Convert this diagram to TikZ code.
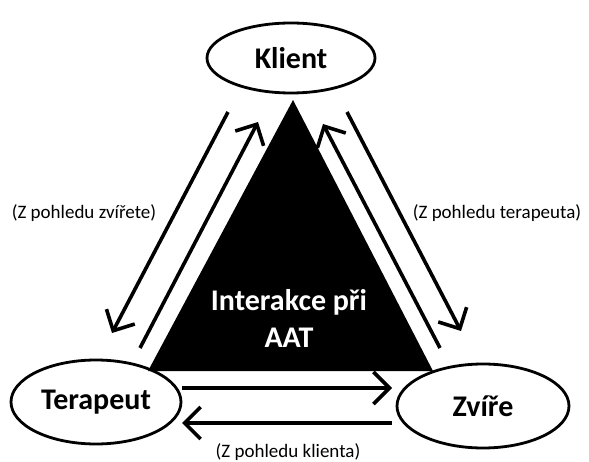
\documentclass[tikz,border=0pt]{standalone}
\usepackage{fontspec}
\setmainfont{Carlito}
\usepackage{tikz}
\usetikzlibrary{arrows.meta,shapes.geometric}

\tikzset{
  party/.style={draw,ellipse,line width=2.8pt,minimum width=170pt,minimum height=84pt,inner sep=0pt,font=\fontsize{30}{34}\selectfont\bfseries},
  view/.style={font=\fontsize{19}{22}\selectfont},
  flow/.style={line width=3.6pt,-{Straight Barb[length=16pt,width=32pt,line width=3.6pt]}}
}

\begin{document}
\begin{tikzpicture}[x=1pt,y=-1pt]
                \useasboundingbox (0,0) rectangle (589,462);

                \fill[black] (293,100) -- (148,371) -- (433,371) -- cycle;

                \node[party,minimum width=168pt,minimum height=70pt] (klient) at (291,58) {Klient};
                \node[party] (terapeut) at (96,402) {Terapeut};
                \node[party,minimum width=172pt] (zvire) at (483,406) {Zvíře};

                \node[align=center,text=white,font=\fontsize{30}{37}\selectfont\bfseries] (aat) at (289,318) {Interakce při\\AAT};

                \node[view] (zkz) at (84,213) {(Z pohledu zvířete)};
                \node[view] (zkt) at (497,213) {(Z pohledu terapeuta)};
                \node[view] (zkk) at (288,452) {(Z pohledu klienta)};

                \coordinate (l1a) at (228,112); \coordinate (l1b) at (112,333);
                \coordinate (l2a) at (140,348); \coordinate (l2b) at (258,122);
                \coordinate (r1a) at (440,348); \coordinate (r1b) at (323,124);
                \coordinate (r2a) at (347,112); \coordinate (r2b) at (461,331);
                \coordinate (b1a) at (182,388); \coordinate (b1b) at (392,388);
                \coordinate (b2a) at (392,423); \coordinate (b2b) at (182,423);

                \draw[flow] (l1a) -- (l1b);
                \draw[flow] (l2a) -- (l2b);
                \draw[flow] (r1a) -- (r1b);
                \draw[flow] (r2a) -- (r2b);
                \draw[flow] (b1a) -- (b1b);
                \draw[flow] (b2a) -- (b2b);

            \end{tikzpicture}
\end{document}
